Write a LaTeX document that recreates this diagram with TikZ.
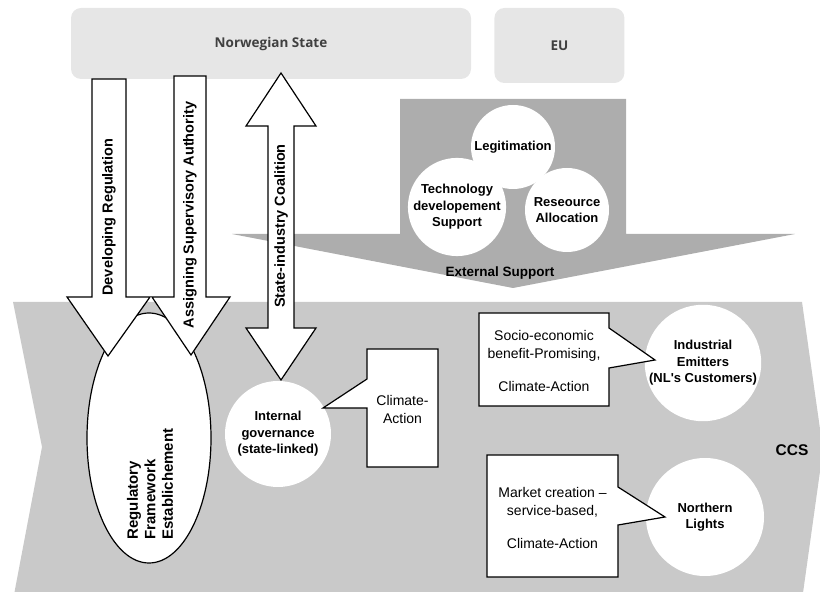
\documentclass[tikz,border=0pt]{standalone}
\usepackage{fontspec}
\setmainfont{Liberation Sans}
\newfontfamily\headfont{Open Sans}
\usetikzlibrary{positioning,shapes.geometric}
\definecolor{stategray}{HTML}{E6E6E6}
\definecolor{supportgray}{HTML}{ADADAD}
\definecolor{ccsgray}{HTML}{C9C9C9}
\definecolor{headtext}{HTML}{404040}

\begin{document}
\begin{tikzpicture}[x=1pt,y=1pt,
		actorbox/.style={fill=stategray, rounded corners=10pt, text=headtext, font=\headfont\bfseries\fontsize{13.5}{16}\selectfont},
		actor/.style={circle, fill=white, inner sep=0pt, align=center, font=\bfseries\fontsize{13}{16.5}\selectfont},
		blockarrow/.style={draw=black, fill=white, line width=1.2pt},
		arrowlabel/.style={rotate=90, font=\bfseries\fontsize{14.5}{17.5}\selectfont},
		callout/.style={draw=black, fill=white, line width=1.2pt},
		calloutlabel/.style={align=center, font=\fontsize{14}{18}\selectfont}]
	\useasboundingbox (0,0) rectangle (820,592);
	\fill[ccsgray] (13,290) -- (802,290) -- (823,142) -- (802,-8) -- (13,-8) -- (42,145) -- cycle;
	\fill[supportgray] (400,493) -- (626,493) -- (626,358) -- (795,358) -- (513,304) -- (232,358) -- (400,358) -- cycle;

	\node(NorState)		[actorbox, minimum width=400, minimum height=71] at (271,548.5) {Norwegian State};
	\node(EU)			[actorbox, minimum width=130, minimum height=75, right=23pt of NorState, yshift=-2pt] {EU};

	\node(Legitimation)	[actor, minimum size=84] at (513,445) {Legitimation};
	\node(TechSupport)	[actor, minimum size=84] at (457,385) {Technology\\developement\\Support};
	\node(ResAlloc)		[actor, minimum size=84] at (567,382) {Reseource\\Allocation};
	\node(ExtSupport)	[font=\bfseries\fontsize{13.5}{16}\selectfont] at (500,319) {External Support};

	\node(RegFramework)	[ellipse, draw, fill=white, line width=1.2pt, minimum width=124, minimum height=250, inner sep=0pt] at (149,154) {};
	\node(RegLabel)		[rotate=90, anchor=west, align=left, font=\bfseries\fontsize{15}{17.5}\selectfont] at (150,49) {Regulatory\\Framework\\Establichement};

	\draw[blockarrow] (92,513) -- (126,513) -- (126,295) -- (150,295) -- (108,236) -- (67,295) -- (92,295) -- cycle;
	\draw[blockarrow] (174,516) -- (206,516) -- (206,295) -- (230,295) -- (191,237) -- (152,295) -- (174,295) -- cycle;
	\draw[blockarrow] (281,519) -- (316,466) -- (294,466) -- (294,264) -- (316,264) -- (281,212) -- (246,264) -- (268,264) -- (268,466) -- (246,466) -- cycle;
	\node(DevReg)		[arrowlabel] at (109,375) {Developing Regulation};
	\node(AssignAuth)	[arrowlabel] at (190,377) {Assigning Supervisory Authority};
	\node(Coalition)	[arrowlabel] at (281,366) {State-industry Coalition};

	\node(InternalGov)	[actor, minimum size=106] at (278,158) {Internal\\governance\\(state-linked)};
	\node(IndEmitters)	[actor, minimum size=114] at (703,229) {Industrial\\Emitters\\(NL\textquotesingle s Customers)};
	\node(NorthernLights)	[actor, minimum size=118] at (705,75) {Northern\\Lights};

	\draw[callout] (367,243) -- (438,243) -- (438,125) -- (367,125) -- (367,184) -- (323,184) -- (367,213) -- cycle;
	\draw[callout] (479,279) -- (609,279) -- (609,264) -- (655,232) -- (609,224) -- (609,186) -- (479,186) -- cycle;
	\draw[callout] (487,137) -- (618,137) -- (618,105) -- (665,75) -- (618,67) -- (618,15) -- (487,15) -- cycle;
	\node(GovClaim)		[calloutlabel] at (402.5,183) {Climate-\\Action};
	\node(EmitterClaim)	[calloutlabel] at (544,231) {Socio-economic\\benefit-Promising,\\[15pt]Climate-Action};
	\node(LightsClaim)	[calloutlabel] at (552.5,74) {Market creation --\\service-based,\\[15pt]Climate-Action};

	\node(CCS)			[font=\bfseries\fontsize{15.5}{18}\selectfont] at (792,142) {CCS};
\end{tikzpicture}
\end{document}
